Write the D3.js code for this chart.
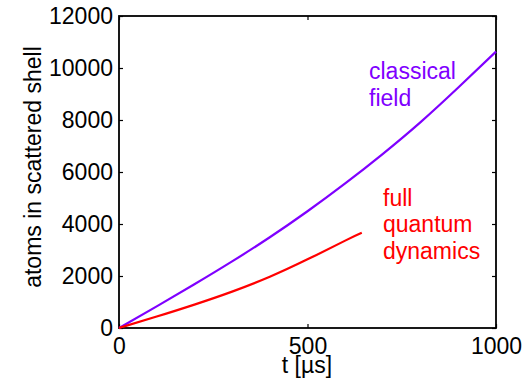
<!DOCTYPE html>
<html>
<head>
<meta charset="utf-8">
<script src="https://cdn.jsdelivr.net/npm/d3@7"></script>
<style>
  body { margin: 0; background: #fff; }
  svg text { font-family: "Liberation Sans", Arial, sans-serif; }
</style>
</head>
<body>
<div id="chart"></div>
<script>
// Data
const classicalT = [0, 100, 200, 300, 400, 500, 600, 700, 800, 900, 1000];
const classicalN = [0, 830, 1680, 2560, 3490, 4490, 5560, 6700, 7920, 9250, 10630];
const quantumT = [0, 100, 200, 300, 400, 500, 600, 644];
const quantumN = [0, 440, 900, 1400, 1970, 2640, 3360, 3660];
const xTicks = [0, 500, 1000];
const yTicks = [0, 2000, 4000, 6000, 8000, 10000, 12000];

const width = 531, height = 383;
const margin = { left: 119, right: 35, top: 16, bottom: 55 };

const svg = d3.select('#chart')
    .append('svg')
    .attr('width', width)
    .attr('height', height);

const x = d3.scaleLinear().domain([0, 1000]).range([margin.left, width - margin.right]);
const y = d3.scaleLinear().domain([0, 12000]).range([height - margin.bottom, margin.top]);

// Axes (ticks point inward, box on all sides)
const fontSize = 23;
const tickLen = 4;

const bottomAxis = svg.append('g')
    .attr('transform', `translate(0,${y(0)})`)
    .call(d3.axisBottom(x).tickValues(xTicks).tickSize(-tickLen).tickPadding(10).tickFormat(d3.format('d')));
const topAxis = svg.append('g')
    .attr('transform', `translate(0,${y(12000)})`)
    .call(d3.axisTop(x).tickValues(xTicks).tickSize(-tickLen).tickFormat(''));
const leftAxis = svg.append('g')
    .attr('transform', `translate(${x(0)},0)`)
    .call(d3.axisLeft(y).tickValues(yTicks).tickSize(-tickLen).tickPadding(6).tickFormat(d3.format('d')));
const rightAxis = svg.append('g')
    .attr('transform', `translate(${x(1000)},0)`)
    .call(d3.axisRight(y).tickValues(yTicks).tickSize(-tickLen).tickFormat(''));

[bottomAxis, topAxis, leftAxis, rightAxis].forEach(g => {
    g.select('.domain').remove();
    g.selectAll('.tick line').attr('stroke', '#000').attr('stroke-width', 1.2);
    g.selectAll('.tick text')
        .attr('fill', '#000')
        .style('font-size', fontSize + 'px');
});
bottomAxis.selectAll('.tick text').attr('dy', '0.71em');

// frame
svg.append('rect')
    .attr('x', x(0))
    .attr('y', y(12000))
    .attr('width', x(1000) - x(0))
    .attr('height', y(0) - y(12000))
    .attr('fill', 'none')
    .attr('stroke', '#000')
    .attr('stroke-width', 1.8);

// Curves
const line = d3.line()
    .x(d => x(d[0]))
    .y(d => y(d[1]))
    .curve(d3.curveNatural);

svg.append('path')
    .datum(classicalT.map((t, i) => [t, classicalN[i]]))
    .attr('d', line)
    .attr('fill', 'none')
    .attr('stroke', '#7f00ff')
    .attr('stroke-width', 2.2);

svg.append('path')
    .datum(quantumT.map((t, i) => [t, quantumN[i]]))
    .attr('d', line)
    .attr('fill', 'none')
    .attr('stroke', '#ff0000')
    .attr('stroke-width', 2.2);

// Curve labels
const classicalLabel = svg.append('text')
    .attr('fill', '#7f00ff')
    .style('font-size', fontSize + 'px');
classicalLabel.append('tspan').attr('x', 369).attr('y', 79).text('classical');
classicalLabel.append('tspan').attr('x', 369).attr('y', 105.5).text('field');

const quantumLabel = svg.append('text')
    .attr('fill', '#ff0000')
    .style('font-size', fontSize + 'px');
quantumLabel.append('tspan').attr('x', 383).attr('y', 205.5).text('full');
quantumLabel.append('tspan').attr('x', 383).attr('y', 232).text('quantum');
quantumLabel.append('tspan').attr('x', 383).attr('y', 258.5).text('dynamics');

// Axis titles
svg.append('text')
    .attr('x', 307)
    .attr('y', 373)
    .attr('text-anchor', 'middle')
    .style('font-size', fontSize + 'px')
    .text('t [\u00b5s]');

svg.append('text')
    .attr('transform', 'translate(41,167) rotate(-90)')
    .attr('text-anchor', 'middle')
    .style('font-size', fontSize + 'px')
    .text('atoms in scattered shell');
</script>
</body>
</html>
